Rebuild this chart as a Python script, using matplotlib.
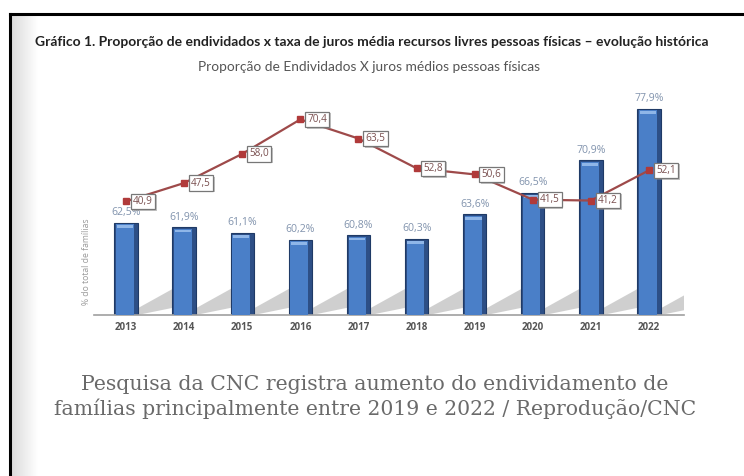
import matplotlib
matplotlib.use("Agg")
import matplotlib.pyplot as plt
import numpy as np
from matplotlib.patches import Polygon
import matplotlib.patheffects as pe
from matplotlib.colors import LinearSegmentedColormap

years = ["2013", "2014", "2015", "2016", "2017", "2018", "2019", "2020", "2021", "2022"]
endividados = [62.5, 61.9, 61.1, 60.2, 60.8, 60.3, 63.6, 66.5, 70.9, 77.9]
juros = [40.9, 47.5, 58.0, 70.4, 63.5, 52.8, 50.6, 41.5, 41.2, 52.1]

title_txt = "Gráfico 1. Proporção de endividados x taxa de juros média recursos livres pessoas físicas – evolução histórica"
subtitle_txt = "Proporção de Endividados X juros médios pessoas físicas"
ylabel_txt = "% do total de famílias"
caption_txt = "Pesquisa da CNC registra aumento do endividamento de\nfamílias principalmente entre 2019 e 2022 / Reprodução/CNC"

def fmt(v):
    return f"{v:.1f}".replace(".", ",")

W, H = 744, 476
fig = plt.figure(figsize=(W / 100, H / 100), dpi=100)
fig.patch.set_facecolor("white")

# left gradient shading inside frame
gax = fig.add_axes([10 / W, 0, 28 / W, (H - 15) / H])
grad = np.linspace(0, 1, 64).reshape(1, -1)
cm = LinearSegmentedColormap.from_list("g", ["#d9d9d9", "#ffffff"])
gax.imshow(grad, aspect="auto", cmap=cm, extent=[0, 1, 0, 1])
gax.axis("off")

# frame lines
fig.add_artist(plt.Line2D([9.5 / W, 1], [1 - 14 / H, 1 - 14 / H], color="black", lw=2.2))
fig.add_artist(plt.Line2D([9.5 / W, 9.5 / W], [0, 1 - 14 / H], color="black", lw=2.2))

# main axes
left_px, right_px = 94, 684
top_px, base_px = 93, 315
ax = fig.add_axes([left_px / W, (H - base_px) / H, (right_px - left_px) / W, (base_px - top_px) / H])
ax.set_xlim(-0.55, 9.6)
ax.set_ylim(50, 80)
x = np.arange(len(years))

# shadows
for i in x:
    poly = Polygon([(i + 0.2, 50.0), (i + 0.2, 50.9), (i + 0.82, 53.6), (i + 0.95, 53.4), (i + 0.95, 51.2)],
                   closed=True, facecolor="#c4c4c4", edgecolor="none", alpha=0.8, zorder=1)
    ax.add_patch(poly)

bw = 0.4
ax.bar(x, np.array(endividados) - 50, bottom=50, width=bw, color="#2d4f86", edgecolor="#1f3a66", lw=0.8, zorder=2)
ax.bar(x - 0.02, np.array(endividados) - 50 - 0.25, bottom=50, width=bw - 0.1, color="#4a7fc8", lw=0, zorder=3)
ax.bar(x - 0.02, [0.35] * len(x), bottom=np.array(endividados) - 0.7, width=bw - 0.12, color="#8fb6e8", lw=0, zorder=4)

for i, v in zip(x, endividados):
    ax.text(i, v + 0.6, fmt(v) + "%", ha="center", va="bottom", fontsize=7.6, color="#8193ad",
            family="Open Sans", zorder=5)

for s in ["top", "right", "left"]:
    ax.spines[s].set_visible(False)
ax.spines["bottom"].set_color("#a0a0a0")
ax.spines["bottom"].set_linewidth(1.2)
ax.set_yticks([])
ax.set_xticks(x)
ax.set_xticklabels(years, fontsize=7.0, color="#555555", fontweight="bold", family="Open Sans")
ax.tick_params(axis="x", length=0, pad=5)
ax.patch.set_alpha(0)

ax.text(-0.68, 57.2, ylabel_txt, rotation=90, ha="center", va="center",
        fontsize=6.2, color="#9a9a9a", family="Open Sans")

# secondary axis for juros
ax2 = ax.twinx()
ax2.set_ylim(0, 79.9)
ax2.plot(x, juros, color="#9e4a4a", lw=1.6, marker="s", markersize=5, markerfacecolor="#b03a3a",
         markeredgecolor="#b03a3a", zorder=6)
for i, v in zip(x, juros):
    t = ax2.annotate(fmt(v), (i, v), xytext=(5, 0), textcoords="offset points", ha="left", va="center",
                     fontsize=7.2, color="#7a5050", family="Open Sans", zorder=7,
                     bbox=dict(boxstyle="square,pad=0.22", fc="white", ec="#777777", lw=0.9))
    t.get_bbox_patch().set_path_effects([pe.SimplePatchShadow(offset=(1.2, -1.2), shadow_rgbFace="#888888", alpha=0.5),
                                         pe.Normal()])
ax2.axis("off")

# titles
fig.text(372 / W, 1 - 42 / H, title_txt, ha="center", va="center", fontsize=10.0, fontweight="bold",
         color="#222222", family="Lato")
fig.text(369 / W, 1 - 67 / H, subtitle_txt, ha="center", va="center", fontsize=9.95,
         color="#555555", family="Lato")

fig.text(375 / W, 1 - 397 / H, caption_txt, ha="center", va="center", fontsize=14.7, color="#6a6a6a",
         family="DejaVu Serif", linespacing=1.3)

fig.savefig("out.png", dpi=100)
